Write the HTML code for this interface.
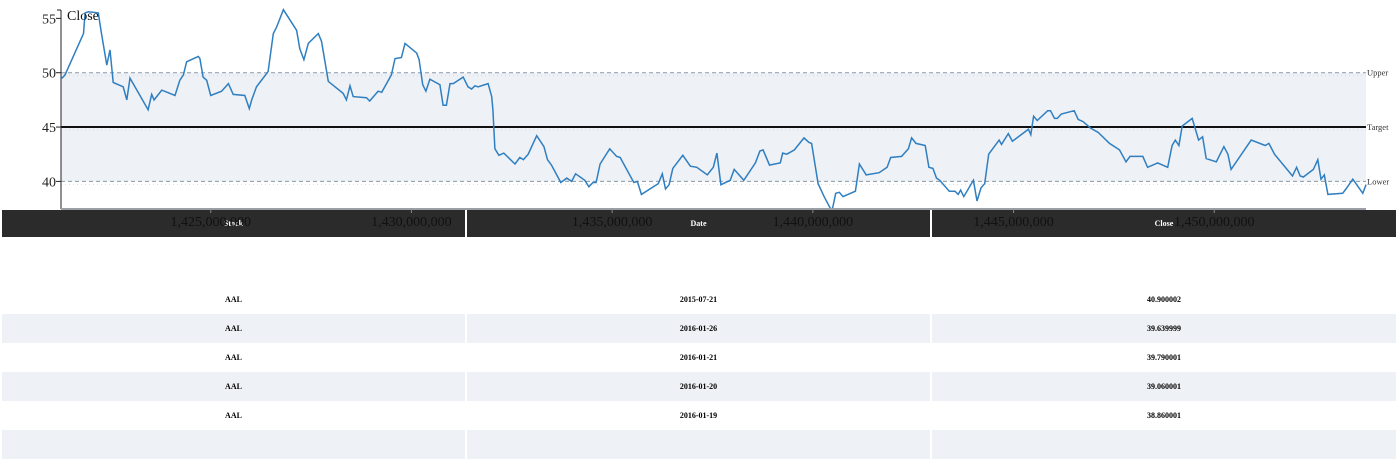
<!DOCTYPE html>
<html><head><meta charset="utf-8"><style>
html,body{margin:0;padding:0;background:#fff;width:1400px;height:440px;overflow:hidden;font-family:"Liberation Serif",serif}
#tbl{position:absolute;left:0;top:0;width:1400px;height:440px}
.hdr{position:absolute;top:210px;height:27px;background:#2b2b2b;color:#fff;font-weight:bold;font-size:8px;text-align:center;line-height:27px}
.row{position:absolute;left:2px;width:1394px;height:29px}
.cell{position:absolute;top:0;height:29px;line-height:29px;text-align:center;font-weight:bold;font-size:8px;color:#000}
svg{position:absolute;left:0;top:0}
</style></head><body>
<div id="tbl">
 <div class="hdr" style="left:2px;width:463px">Stock</div>
 <div class="hdr" style="left:467px;width:463px">Date</div>
 <div class="hdr" style="left:932px;width:464px">Close</div>
 <div id="rows"></div>
</div>
<svg id="chart" width="1400" height="240"></svg>
<script>
const dates=[1421.29,1421.37,1421.83,1421.87,1421.95,1422.20,1422.28,1422.41,1422.49,1422.57,1422.82,1422.91,1422.99,1423.44,1423.53,1423.59,1423.78,1424.11,1424.23,1424.32,1424.40,1424.69,1424.73,1424.81,1424.90,1425.00,1425.27,1425.44,1425.56,1425.85,1425.96,1426.02,1426.14,1426.43,1426.56,1426.64,1426.81,1427.14,1427.22,1427.32,1427.43,1427.68,1427.76,1427.93,1428.30,1428.38,1428.47,1428.55,1428.88,1428.96,1429.17,1429.26,1429.50,1429.59,1429.75,1429.84,1430.13,1430.19,1430.28,1430.36,1430.46,1430.71,1430.79,1430.87,1430.96,1431.04,1431.29,1431.41,1431.50,1431.58,1431.66,1431.91,1432.00,1432.03,1432.08,1432.18,
1432.30,1432.58,1432.70,1432.79,1432.91,1433.12,1433.30,1433.39,1433.49,1433.72,1433.87,1433.99,1434.09,1434.32,1434.42,1434.52,1434.60,1434.70,1434.94,1435.11,1435.20,1435.54,1435.63,1435.73,1436.15,1436.25,1436.33,1436.42,1436.51,1436.76,1436.95,1437.11,1437.37,1437.52,1437.61,1437.71,1437.94,1438.04,1438.28,1438.57,1438.68,1438.76,1438.92,1439.19,1439.25,1439.35,1439.54,1439.78,1439.90,1439.97,1440.13,1440.28,1440.44,1440.49,1440.57,1440.66,1440.75,1441.06,1441.16,1441.33,1441.65,1441.85,1441.94,1442.21,1442.38,1442.46,1442.57,1442.80,1442.89,1442.99,1443.08,1443.16,1443.40,1443.54,1443.62,1443.68,1443.76,1444.00,1444.09,1444.19,1444.28,1444.38,1444.64,1444.70,1444.87,1444.97,1445.30,1445.37,1445.43,1445.50,1445.59,1445.85,1445.92,1446.02,1446.09,1446.19,1446.40,1446.51,1446.61,1446.73,1446.92,1447.11,
1447.39,1447.64,1447.80,1447.90,1448.22,1448.34,1448.59,1448.84,1448.95,1449.03,1449.12,1449.20,1449.45,1449.61,1449.71,1449.80,1450.05,1450.24,1450.34,1450.42,1450.92,1451.27,1451.36,1451.50,1451.95,1452.05,1452.14,1452.22,1452.47,1452.58,1452.66,1452.74,1452.83,1453.20,1453.28,1453.45,1453.70,1453.78];
const closes=[49.48,49.8,53.6,55.5,55.6,55.5,53.6,50.7,52.1,49.1,48.7,47.5,49.5,46.6,48.0,47.5,48.4,47.9,49.3,49.8,51.0,51.5,51.3,49.6,49.3,47.9,48.3,49.0,48.0,47.9,46.7,47.5,48.7,50.1,53.6,54.2,55.8,53.9,52.2,51.2,52.7,53.6,52.9,49.2,48.1,47.5,48.8,47.8,47.7,47.4,48.3,48.2,49.8,51.3,51.4,52.7,51.8,51.2,48.9,48.3,49.4,48.9,47.0,47.0,49.0,49.0,49.6,48.7,48.5,48.8,48.7,49.0,47.8,46.6,43.0,42.4,
42.6,41.6,42.2,42.0,42.5,44.2,43.2,42.0,41.5,39.9,40.3,40.0,40.7,40.1,39.5,39.9,39.9,41.6,43.0,42.3,42.2,39.9,40.0,38.8,39.8,40.7,39.3,39.7,41.2,42.4,41.4,41.3,40.6,41.3,42.6,39.7,40.1,41.1,40.1,41.7,42.8,42.9,41.5,41.7,42.6,42.5,42.9,44.0,43.6,43.5,39.8,38.6,37.5,37.5,38.9,39.0,38.6,39.1,41.6,40.6,40.8,41.3,42.2,42.3,43.0,44.0,43.5,43.3,41.3,41.2,40.3,40.1,39.1,39.1,38.8,39.2,38.6,40.1,38.2,39.4,39.8,42.5,43.8,43.4,44.4,43.7,44.6,44.8,44.3,46.0,45.6,46.5,46.5,45.8,45.8,46.2,46.4,46.5,45.7,45.5,44.9,44.5,
43.5,42.9,41.8,42.3,42.3,41.3,41.7,41.3,43.3,43.8,43.3,45.1,45.8,43.8,44.1,42.1,41.8,43.2,42.5,41.1,43.8,43.3,43.5,42.5,40.5,41.3,40.5,40.4,41.1,42.0,40.2,40.6,38.8,38.9,39.3,40.2,38.9,39.7];
const yTicks=[40,45,50,55];
const gridVals=[40,45,50];
const xTicks=[1425,1430,1435,1440,1445,1450];
const xTickLabels=["1,425,000,000","1,430,000,000","1,435,000,000","1,440,000,000","1,445,000,000","1,450,000,000"];
const upper=50, target=45, lower=40;
const rowStock=["AAL","AAL","AAL","AAL","AAL"];
const rowDate=["2015-07-21","2016-01-26","2016-01-21","2016-01-20","2016-01-19"];
const rowClose=["40.900002","39.639999","39.790001","39.060001","38.860001"];

const X0=61,X1=1366,Y0=209,Y1=10,D0=1421.27,D1=1453.78,V0=37.46,V1=55.77;
const sx=t=>X0+(t-D0)/(D1-D0)*(X1-X0);
const sy=v=>Y0-(v-V0)/(V1-V0)*(Y0-Y1);
const NS="http://www.w3.org/2000/svg";
const svg=document.getElementById('chart');
function mk(tag,attrs,parent){const e=document.createElementNS(NS,tag);for(const k in attrs)e.setAttribute(k,attrs[k]);(parent||svg).appendChild(e);return e;}

const rows=document.getElementById('rows');
for(let i=0;i<rowStock.length+1;i++){
  const r=document.createElement('div');r.className='row';
  
  
  r.style.top=(285+i*29)+'px';r.style.background=i%2?'#eef1f5':'#fff';
  if(i<rowStock.length){
    const vals=[rowStock[i],rowDate[i],rowClose[i]];const L=[0,465,930],W=[463,463,464];
    vals.forEach((v,j)=>{const c=document.createElement('div');c.className='cell';
      
      
      c.style.left=L[j]+'px';c.style.width=W[j]+'px';c.textContent=v;r.appendChild(c);});
  }
  [463,928].forEach(x=>{const s=document.createElement('div');s.style.cssText='position:absolute;top:0;height:29px;width:2px;background:#fff;left:'+x+'px';r.appendChild(s);});
  rows.appendChild(r);
}

const band=mk('rect',{x:X0,y:sy(upper),width:X1-X0,height:sy(lower)-sy(upper),fill:'#eef1f5'});


gridVals.forEach(v=>{const g=mk('line',{x1:X0,x2:X1,y1:sy(v)+3,y2:sy(v)+3,stroke:'#d6dce3','stroke-dasharray':'1,3'});
  
  });
[[upper,'Upper'],[lower,'Lower']].forEach(([v,l])=>{
  const ln=mk('line',{x1:X0,x2:X1,y1:sy(v),y2:sy(v),stroke:'#8a99a8','stroke-dasharray':'4,3'});
  
  
  const t=mk('text',{x:X1+1,y:sy(v)+3,'font-size':'8.5','font-family':'Liberation Serif, serif',fill:'#333'});t.textContent=l;
  
  
});
const tl=mk('line',{x1:X0,x2:X1,y1:sy(target),y2:sy(target),stroke:'#111','stroke-width':2});


const tt=mk('text',{x:X1+1,y:sy(target)+3,'font-size':'8.5','font-family':'Liberation Serif, serif',fill:'#333'});tt.textContent='Target';



const d=dates.map((t,i)=>(i?'L':'M')+sx(t).toFixed(1)+','+sy(closes[i]).toFixed(1)).join('');
const path=mk('path',{d:d,fill:'none',stroke:'#2f7fc1','stroke-width':1.5});



const ya=mk('line',{x1:X0,x2:X0,y1:Y1,y2:Y0,stroke:'#222','stroke-width':1});


mk('line',{x1:X0-4,x2:X0,y1:Y1,y2:Y1,stroke:'#222'});
yTicks.forEach(v=>{mk('line',{x1:X0-5,x2:X0,y1:sy(v),y2:sy(v),stroke:'#222'});
  const t=mk('text',{x:X0-5,y:sy(v)+5,'text-anchor':'end','font-size':'14','font-family':'Liberation Serif, serif',fill:'#222'});t.textContent=v;
  
  });
const yt=mk('text',{x:67,y:20,'font-size':'14','font-family':'Liberation Serif, serif',fill:'#111'});yt.textContent='Close';



const xa=mk('line',{x1:X0,x2:X1,y1:Y0,y2:Y0,stroke:'#9aa0a6','stroke-width':2});


xTicks.forEach((v,i)=>{mk('line',{x1:sx(v),x2:sx(v),y1:Y0,y2:Y0+4,stroke:'#888'});
  const t=mk('text',{x:sx(v),y:226,'text-anchor':'middle','font-size':'14','font-family':'Liberation Serif, serif',fill:'#111'});t.textContent=xTickLabels[i];
  
  });
</script>
</body></html>
